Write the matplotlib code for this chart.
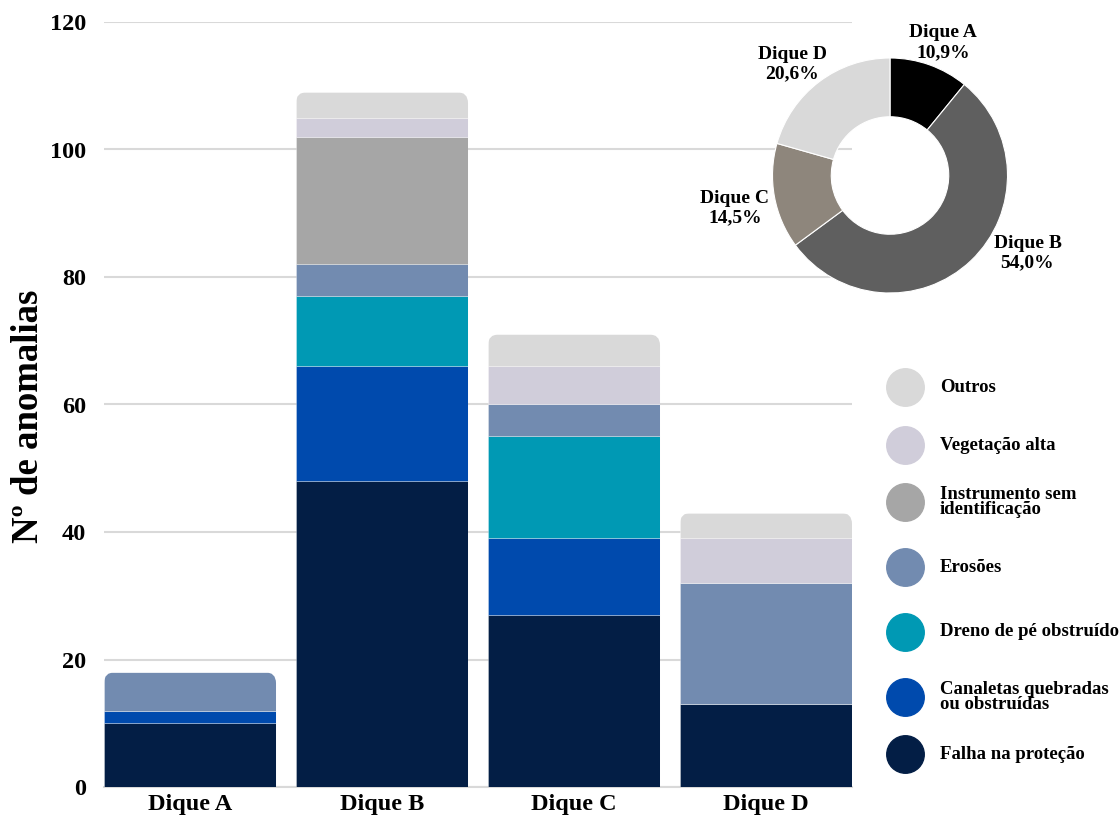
import matplotlib.pyplot as plt
import numpy as np
from matplotlib.patches import FancyBboxPatch

plt.rcParams['font.family'] = ['Liberation Serif', 'DejaVu Serif']
plt.rcParams['font.weight'] = 'bold'

# anomalies per dike, stacked bottom to top
diques = ['Dique A', 'Dique B', 'Dique C', 'Dique D']
falha = [10, 48, 27, 13]
canaletas = [2, 18, 12, 0]
dreno = [0, 11, 16, 0]
erosoes = [6, 5, 5, 19]
instrumento = [0, 20, 0, 0]
vegetacao = [0, 3, 6, 7]
outros = [0, 4, 5, 4]

series_names = ['Falha na proteção', 'Canaletas quebradas\nou obstruídas',
                'Dreno de pé obstruído', 'Erosões',
                'Instrumento sem\nidentificação', 'Vegetação alta', 'Outros']
series_colors = ['#031e45', '#004aad', '#0099b4', '#728bb0',
                 '#a6a6a6', '#d0cdda', '#d9d9d9']

# share of each dike (donut)
pie_labels = ['Dique A', 'Dique B', 'Dique C', 'Dique D']
pie_pct = [10.9, 54.0, 14.5, 20.6]
pie_colors = ['#000000', '#5f5f5f', '#8e867c', '#d9d9d9']
pie_label_pos = [(0.45, 1.13), (1.17, -0.66), (-1.32, -0.28), (-0.83, 0.95)]

fig = plt.figure(figsize=(11.2, 8.22), dpi=100)
ax = fig.add_axes([104 / 1120, 35 / 822, 748 / 1120, 765 / 822])

x = np.arange(len(diques))
width = 0.896
ax.set_xlim(-0.448, 3.448)
ax.set_ylim(0, 120)

data = [falha, canaletas, dreno, erosoes, instrumento, vegetacao, outros]
bottom = np.zeros(len(diques))
bars = []
for vals, name, col in zip(data, series_names, series_colors):
    b = ax.bar(x, vals, width, bottom=bottom, color=col, label=name,
               edgecolor=(1, 1, 1, 0.35), linewidth=0.6, zorder=3)
    bars.append(b)
    bottom += np.array(vals)
totals = bottom

# round the top corners of each stacked column
fig.canvas.draw()
px_x = ax.transData.transform([(1, 0)])[0][0] - ax.transData.transform([(0, 0)])[0][0]
px_y = ax.transData.transform([(0, 1)])[0][1] - ax.transData.transform([(0, 0)])[0][1]
aspect = px_x / px_y
radius = 11 / px_x
for i in range(len(diques)):
    clip = FancyBboxPatch((x[i] - width / 2, -20), width, totals[i] + 20,
                          boxstyle='round,pad=0,rounding_size=%f' % radius,
                          mutation_aspect=aspect, transform=ax.transData,
                          facecolor='none', edgecolor='none')
    ax.add_patch(clip)
    for b in bars:
        b[i].set_clip_path(clip)

ax.set_yticks(np.arange(0, 121, 20))
ax.yaxis.grid(True, color='#d9d9d9', linewidth=1.5, zorder=0)
ax.set_axisbelow(True)
for s in ['top', 'right', 'left']:
    ax.spines[s].set_visible(False)
ax.spines['bottom'].set_color('#d9d9d9')
ax.spines['bottom'].set_linewidth(1.5)
ax.tick_params(axis='both', length=0, labelsize=17.5)
ax.tick_params(axis='y', pad=13)
ax.tick_params(axis='x', pad=5)
ax.set_xticks(x)
ax.set_xticklabels(diques, fontweight='bold')
for t in ax.get_yticklabels():
    t.set_fontweight('bold')
ax.set_ylabel('Nº de anomalias', fontsize=26.5, fontweight='bold')
ax.yaxis.set_label_coords(-0.078, 0.485)

# legend drawn by hand: circles + labels
legend_y = [387, 445, 502, 567, 632, 697, 754]
for name, col, yy in zip(series_names[::-1], series_colors[::-1], legend_y):
    fy = 1 - yy / 822
    fig.lines.append(plt.Line2D([905 / 1120], [fy], marker='o', markersize=27,
                                color=col, linestyle='none',
                                transform=fig.transFigure))
    fig.text(940 / 1120, fy, name, fontsize=13.5, fontweight='bold',
             va='center', ha='left', linespacing=0.85)

# donut
ax2 = fig.add_axes([(890 - 117.5) / 1120, (822 - 293) / 822, 235 / 1120, 235 / 822])
ax2.pie(pie_pct, colors=pie_colors, startangle=90, counterclock=False,
        wedgeprops=dict(width=0.5, edgecolor='white', linewidth=0.8))
ax2.set_xlim(-1, 1)
ax2.set_ylim(-1, 1)
for lab, pct, (lx, ly) in zip(pie_labels, pie_pct, pie_label_pos):
    ax2.text(lx, ly, '%s\n%s%%' % (lab, ('%.1f' % pct).replace('.', ',')),
             ha='center', va='center', fontsize=14, fontweight='bold',
             linespacing=1.2, clip_on=False)

fig.savefig('out.png', dpi=100)
